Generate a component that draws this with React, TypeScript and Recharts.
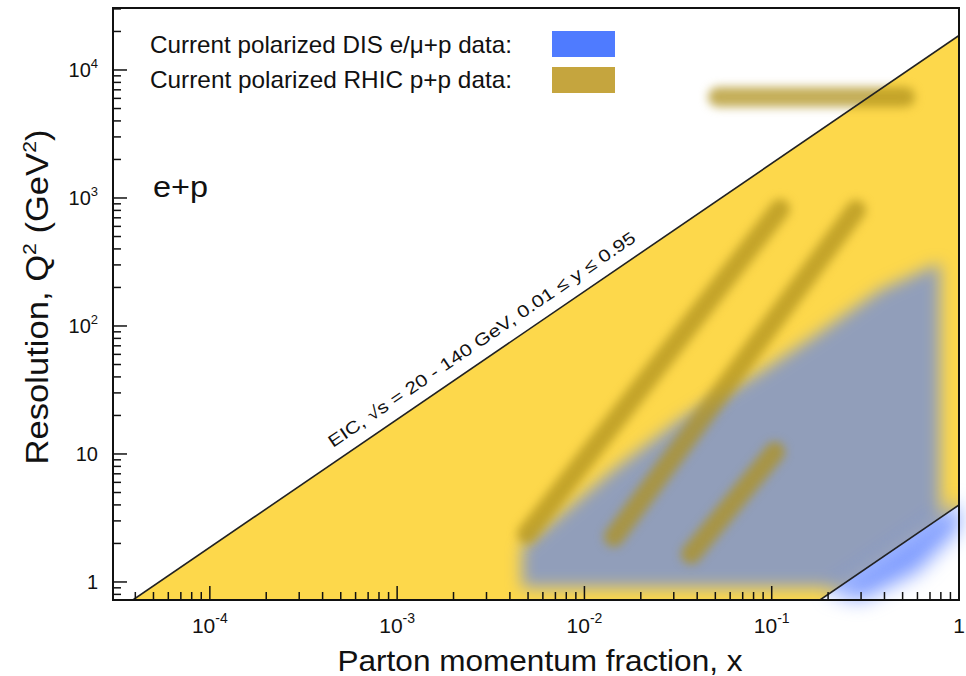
import React from 'react';
import { ComposedChart, Area, Line, XAxis, YAxis } from 'recharts';

const W = 966;
const H = 676;
const FONT = '"Liberation Sans", Arial, Helvetica, sans-serif';
const INK = '#111';

// axis ranges (log-log)
const xDomain = [3.04e-5, 1];
const yDomain = [0.723, 30500];

const xMajorTicks = [1e-4, 1e-3, 1e-2, 1e-1, 1];
const xTickBase = ['10', '10', '10', '10', '1'];
const xTickExp = ['-4', '-3', '-2', '-1', ''];
const yMajorTicks = [1, 10, 100, 1000, 10000];
const yTickBase = ['1', '10', '10', '10', '10'];
const yTickExp = ['', '', '2', '3', '4'];

// EIC coverage, sqrt(s) = 20 - 140 GeV, 0.01 <= y <= 0.95
const eicX = [3.88e-5, 0.181, 1];
const eicLow = [0.723, 0.723, 4];
const eicHigh = [0.723, 3370, 18620];
const eicUpperX = [3.88e-5, 1];
const eicUpperQ2 = [0.723, 18620];
const eicLowerX = [0.181, 1];
const eicLowerQ2 = [0.723, 4];

// current polarized DIS data region (outline, walked round)
const disX = [4.64e-3, 4.64e-3, 0.0142, 0.0324, 0.0899, 0.166, 0.379, 0.792, 0.792, 0.379, 0.2275, 4.64e-3];
const disQ2 = [0.91, 1.88, 7.5, 18.4, 45.3, 82, 191, 311, 3.17, 1.52, 0.91, 0.91];

// blue spill just below the low-y edge
const fringeX = [0.2, 0.5, 1, 1, 0.6, 0.3];
const fringeQ2 = [0.84, 2.1, 4.2, 2.6, 1.2, 0.723];

// current polarized RHIC p+p data bands (start / end)
const rhicX = [
  [4.94e-3, 0.1107],
  [0.01439, 0.282],
  [0.0371, 0.104],
  [0.0517, 0.515],
];
const rhicQ2 = [
  [2.37, 820],
  [2.25, 806],
  [1.65, 10.4],
  [6150, 6150],
];

const minorTicks = (lo: number, hi: number) => {
  const out: number[] = [];
  for (let e = -6; e <= 5; e++) {
    for (let m = 1; m < 10; m++) {
      const v = m * Math.pow(10, e);
      if (v >= lo && v <= hi * 1.0001) out.push(v);
    }
  }
  return out;
};
const xTicks = minorTicks(xDomain[0], xDomain[1]);
const yTicks = minorTicks(yDomain[0], yDomain[1]);

const majorIndex = (v: number, majors: number[]) =>
  majors.findIndex((m) => Math.abs(v - m) / m < 1e-6);

const eicData = eicX.map((x, i) => ({ x, band: [eicLow[i], eicHigh[i]] }));
const points = (xs: number[], qs: number[]) => xs.map((x, i) => ({ x, q2: qs[i] }));
const disData = points(disX, disQ2);
const fringeData = points(fringeX, fringeQ2);
const upperData = points(eicUpperX, eicUpperQ2);
const lowerData = points(eicLowerX, eicLowerQ2);
const rhicData = rhicX.map((xs, i) => points(xs, rhicQ2[i]));

// plot box in pixels
const PLOT_BOTTOM = 600;
const PLOT_LEFT = 113;
const LAYER_MARGIN = { top: 8, right: 7, bottom: 76, left: 113 };

const XTick = ({ x, payload }: any) => {
  const i = majorIndex(payload.value, xMajorTicks);
  const y = PLOT_BOTTOM;
  return (
    <g>
      <line x1={x} x2={x} y1={y} y2={y - (i >= 0 ? 14 : 8)} stroke={INK} strokeWidth={1.5} />
      {i >= 0 && (
        <text x={x} y={y + 33} textAnchor="middle" fontSize={21} fill={INK} fontFamily={FONT}>
          {xTickBase[i]}
          {xTickExp[i] && (
            <tspan dy={-10} fontSize={14}>
              {xTickExp[i]}
            </tspan>
          )}
        </text>
      )}
    </g>
  );
};

const YTick = ({ y, payload }: any) => {
  const i = majorIndex(payload.value, yMajorTicks);
  const x = PLOT_LEFT;
  return (
    <g>
      <line x1={x} x2={x + (i >= 0 ? 14 : 8)} y1={y} y2={y} stroke={INK} strokeWidth={1.5} />
      {i >= 0 && (
        <text x={x - 15} y={y + 7} textAnchor="end" fontSize={20} fill={INK} fontFamily={FONT}>
          {yTickBase[i]}
          {yTickExp[i] && (
            <tspan dy={-9} fontSize={13}>
              {yTickExp[i]}
            </tspan>
          )}
        </text>
      )}
    </g>
  );
};

// one stacked copy of the plot, same scales, optionally blurred as a whole
const Layer = ({ blur, children }: { blur?: number; children: React.ReactNode }) => (
  <div
    style={{
      position: 'absolute',
      left: 0,
      top: 0,
      width: W,
      height: H,
      filter: blur ? `blur(${blur}px)` : undefined,
    }}
  >
    <ComposedChart width={W} height={H} margin={LAYER_MARGIN}>
      {children}
      <XAxis dataKey="x" type="number" scale="log" domain={xDomain} allowDataOverflow hide />
      <YAxis type="number" scale="log" domain={yDomain} allowDataOverflow hide />
    </ComposedChart>
  </div>
);

export default function App() {
  return (
    <div style={{ position: 'absolute', left: 0, top: 0, width: W, height: H, background: '#fff' }}>
      <style>{`
        .dis-fill .recharts-line-curve { fill: #4F7BFF; fill-opacity: 0.62; }
        .fringe-fill .recharts-line-curve { fill: #6A8CFF; fill-opacity: 0.85; }
      `}</style>

      <Layer>
        <Area
          data={eicData}
          dataKey="band"
          type="linear"
          fill="#FDD84B"
          fillOpacity={1}
          stroke="none"
          dot={false}
          activeDot={false}
          isAnimationActive={false}
        />
      </Layer>

      <Layer blur={10}>
        <Line
          data={fringeData}
          dataKey="q2"
          type="linear"
          className="fringe-fill"
          stroke="none"
          dot={false}
          activeDot={false}
          isAnimationActive={false}
        />
      </Layer>

      <Layer blur={8}>
        <Line
          data={disData}
          dataKey="q2"
          type="linear"
          className="dis-fill"
          stroke="none"
          dot={false}
          activeDot={false}
          isAnimationActive={false}
        />
      </Layer>

      <Layer blur={5}>
        {rhicData.map((d, i) => (
          <Line
            key={`rhic-${i}`}
            data={d}
            dataKey="q2"
            type="linear"
            stroke="#B0921E"
            strokeOpacity={0.74}
            strokeWidth={20}
            strokeLinecap="round"
            dot={false}
            activeDot={false}
            isAnimationActive={false}
          />
        ))}
      </Layer>

      <div style={{ position: 'absolute', left: 0, top: 0 }}>
        <ComposedChart width={W} height={H} margin={{ top: 8, right: 7, bottom: 0, left: 0 }}>
          <Line
            data={upperData}
            dataKey="q2"
            type="linear"
            stroke="#222"
            strokeWidth={1.6}
            dot={false}
            activeDot={false}
            isAnimationActive={false}
          />
          <Line
            data={lowerData}
            dataKey="q2"
            type="linear"
            stroke="#222"
            strokeWidth={1.6}
            dot={false}
            activeDot={false}
            isAnimationActive={false}
          />
          <XAxis
            dataKey="x"
            type="number"
            scale="log"
            domain={xDomain}
            allowDataOverflow
            ticks={xTicks}
            interval={0}
            tick={<XTick />}
            tickLine={false}
            axisLine={false}
            height={76}
          />
          <YAxis
            type="number"
            scale="log"
            domain={yDomain}
            allowDataOverflow
            ticks={yTicks}
            interval={0}
            tick={<YTick />}
            tickLine={false}
            axisLine={false}
            width={113}
          />
        </ComposedChart>
      </div>

      <svg
        width={W}
        height={H}
        style={{ position: 'absolute', left: 0, top: 0, pointerEvents: 'none' }}
        fontFamily={FONT}
        fill={INK}
      >
        <rect x={113} y={8} width={846} height={592} fill="none" stroke={INK} strokeWidth={2} />

        <text x={150} y={53} fontSize={24} textLength={362} lengthAdjust="spacingAndGlyphs">
          Current polarized DIS e/μ+p data:
        </text>
        <rect x={552} y={31} width={63} height={26} fill="#4F7BFF" />
        <text x={150} y={88} fontSize={24} textLength={362} lengthAdjust="spacingAndGlyphs">
          Current polarized RHIC p+p data:
        </text>
        <rect x={552} y={67} width={63} height={26} fill="#C5A53E" />

        <text x={153} y={197} fontSize={29} textLength={55} lengthAdjust="spacingAndGlyphs">
          e+p
        </text>

        <text
          transform="translate(333 448) rotate(-34.3)"
          fontSize={17}
          textLength={368}
          lengthAdjust="spacingAndGlyphs"
        >
          EIC, √s = 20 - 140 GeV, 0.01 ≤ y ≤ 0.95
        </text>

        <text x={540} y={671} fontSize={29} textAnchor="middle" textLength={405} lengthAdjust="spacingAndGlyphs">
          Parton momentum fraction, x
        </text>

        <text
          transform="translate(48 297) rotate(-90)"
          fontSize={31}
          textAnchor="middle"
          textLength={335}
          lengthAdjust="spacingAndGlyphs"
        >
          Resolution, Q<tspan dy={-12} fontSize={19}>2</tspan>
          <tspan dy={12}>{'  (GeV'}</tspan>
          <tspan dy={-12} fontSize={19}>2</tspan>
          <tspan dy={12}>)</tspan>
        </text>
      </svg>
    </div>
  );
}
